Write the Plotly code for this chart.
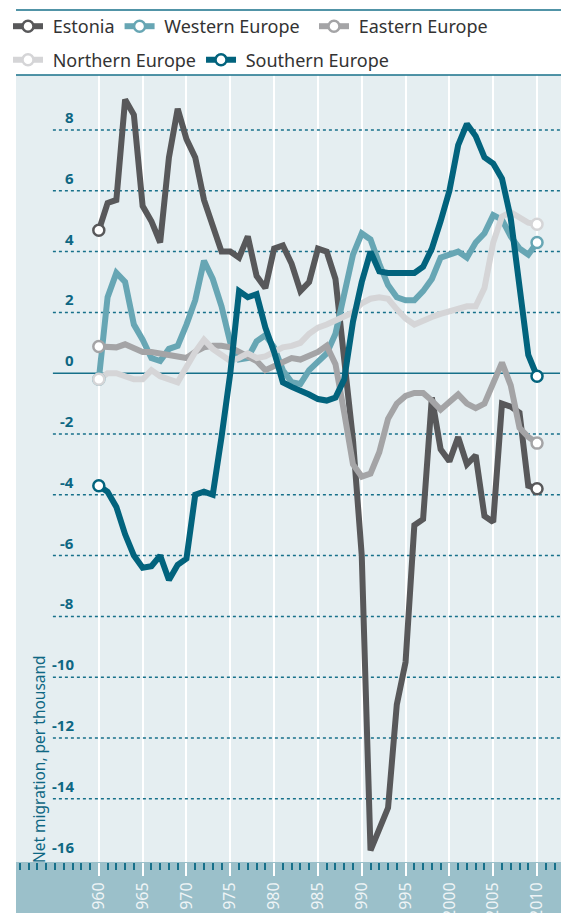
import plotly.graph_objects as go

years = list(range(1960, 2011))

estonia = [4.7, 5.6, 5.7, 9.0, 8.5, 5.5, 5.0, 4.3, 7.1, 8.7,
           7.7, 7.1, 5.7, 4.9, 4.0, 4.0, 3.8, 4.5, 3.2, 2.8,
           4.1, 4.2, 3.6, 2.7, 3.0, 4.1, 4.0, 3.1, 0.3, -2.2,
           -6.0, -15.7, -15.0, -14.3, -10.9, -9.5, -5.0, -4.8, -0.8, -2.5,
           -2.9, -2.1, -3.0, -2.7, -4.7, -4.9, -1.0, -1.1, -1.3, -3.7,
           -3.8]
western = [-0.2, 2.5, 3.3, 3.0, 1.6, 1.1, 0.5, 0.4, 0.8, 0.9,
           1.6, 2.4, 3.7, 3.1, 2.2, 1.0, 0.45, 0.5, 1.05, 1.25,
           0.85, 0.1, -0.3, -0.35, 0.1, 0.4, 0.65, 1.3, 2.7, 3.9,
           4.6, 4.4, 3.6, 2.9, 2.5, 2.4, 2.4, 2.7, 3.1, 3.8,
           3.9, 4.0, 3.8, 4.3, 4.6, 5.2, 5.05, 4.5, 4.1, 3.9,
           4.3]
eastern = [0.88, 0.85, 0.85, 0.95, 0.85, 0.7, 0.7, 0.65, 0.55, 0.5,
           0.5, 0.7, 0.85, 0.9, 0.9, 0.85, 0.7, 0.6, 0.4, 0.1,
           0.25, 0.4, 0.5, 0.45, 0.55, 0.7, 0.9, 0.3, -1.3, -3.0,
           -3.4, -3.3, -2.6, -1.5, -1.0, -0.75, -0.65, -0.65, -0.9, -1.2,
           -0.95, -0.7, -1.0, -1.15, -1.0, -0.35, 0.35, -0.4, -1.8, -2.1,
           -2.3]
northern = [-0.2, 0.0, 0.0, -0.1, -0.2, -0.2, 0.1, -0.1, -0.2, -0.3,
            0.2, 0.7, 1.1, 0.8, 0.6, 0.4, 0.5, 0.65, 0.5, 0.55,
            0.7, 0.85, 0.9, 1.0, 1.3, 1.5, 1.6, 1.75, 1.85, 2.0,
            2.3, 2.45, 2.5, 2.45, 2.1, 1.8, 1.6, 1.75, 1.85, 1.95,
            2.05, 2.15, 2.2, 2.2, 2.8, 4.3, 5.15, 5.3, 5.15, 4.95,
            4.9]
southern = [-3.7, -3.9, -4.4, -5.3, -6.0, -6.4, -6.35, -6.0, -6.8, -6.3,
            -6.1, -4.0, -3.9, -4.0, -2.1, 0.0, 2.7, 2.5, 2.6, 1.5,
            0.7, -0.3, -0.45, -0.55, -0.7, -0.85, -0.9, -0.8, -0.2, 1.7,
            3.0, 4.0, 3.35, 3.3, 3.3, 3.3, 3.3, 3.5, 4.1, 5.0,
            6.0, 7.5, 8.2, 7.8, 7.1, 6.9, 6.4, 5.1, 3.0, 0.6,
            -0.1]

series_names = ["Estonia", "Western Europe", "Eastern Europe", "Northern Europe", "Southern Europe"]
series_values = [estonia, western, eastern, northern, southern]
series_colors = ["#58585a", "#67a6b4", "#a4a4a6", "#d5d5d7", "#02637d"]
legend_labels = [" Estonia", " Western Europe  ", " Eastern Europe", " Northern Europe", " Southern Europe"]

y_ticks = [8, 6, 4, 2, 0, -2, -4, -6, -8, -10, -12, -14, -16]
x_ticks = list(range(1960, 2011, 5))
y_title = "Net migration, per thousand"

TEAL = "#17708a"
LABEL_TEAL = "#0e6783"
FONT = "Noto Sans"

W, H = 569, 913
ML, MR, MT, MB = 7, 0, 67, 59
plot_w = W - ML - MR
plot_h = H - MT - MB
x_range = [1950.55, 2014.56]
y_range = [-16.08, 9.81]

fig = go.Figure()

# lines
for name, vals, col in zip(series_names, series_values, series_colors):
    fig.add_trace(go.Scatter(x=years, y=vals, mode="lines", name=name,
                             line=dict(color=col, width=6), showlegend=False,
                             hoverinfo="skip"))
# endpoint markers drawn above all lines
for name, vals, col in zip(series_names, series_values, series_colors):
    fig.add_trace(go.Scatter(x=[years[0], years[-1]], y=[vals[0], vals[-1]], mode="markers",
                             marker=dict(size=11, color="white", line=dict(color=col, width=2.5)),
                             showlegend=False, hoverinfo="skip"))
# legend entries
for i, (label, col) in enumerate(zip(legend_labels, series_colors)):
    fig.add_trace(go.Scatter(x=[None], y=[None], mode="lines+markers", name=label,
                             line=dict(color=col, width=6),
                             marker=dict(size=11, color="white", line=dict(color=col, width=2.5)),
                             legend="legend" if i < 3 else "legend2"))

shapes = []
# dotted horizontal gridlines
for v in y_ticks:
    if v == -16:
        continue
    shapes.append(dict(type="line", xref="x", yref="y", x0=1954.76, x1=2012.62, y0=v, y1=v,
                       line=dict(color=TEAL, width=1.5, dash="solid" if v == 0 else "dot"),
                       layer="between"))
# teal vertical lines at 1960 and 2010
for xv in [years[0], years[-1]]:
    shapes.append(dict(type="line", xref="x", yref="paper", x0=xv, x1=xv, y0=0, y1=1,
                       line=dict(color=TEAL, width=1.5), layer="between"))
# bottom band
shapes.append(dict(type="rect", xref="paper", yref="paper", x0=0, x1=1, y0=-MB / plot_h, y1=0,
                   fillcolor="#9bc0ca", line=dict(width=0), layer="below"))
# top lines
top_y = (plot_h + MT - 2) / plot_h
shapes.append(dict(type="line", xref="paper", yref="paper", x0=0, x1=1, y0=top_y, y1=top_y,
                   line=dict(color=TEAL, width=1.5), layer="above"))
shapes.append(dict(type="line", xref="paper", yref="paper", x0=0, x1=1, y0=1, y1=1,
                   line=dict(color=TEAL, width=1.5), layer="above"))

annotations = []
for v in y_ticks:
    annotations.append(dict(xref="paper", yref="y", x=(67 - ML) / plot_w, y=v,
                            text=f"<b>{v}</b>", showarrow=False, xanchor="right", yanchor="middle",
                            yshift=13, font=dict(family=FONT, size=15, color=LABEL_TEAL)))
annotations.append(dict(xref="paper", yref="paper", x=(30 - ML) / plot_w, y=-0.004,
                        text=y_title, textangle=-90, showarrow=False, xanchor="center", yanchor="bottom",
                        font=dict(family=FONT, size=15.5, color=LABEL_TEAL)))

legend_common = dict(orientation="h", xanchor="left", yanchor="middle",
                     font=dict(family=FONT, size=18, color="#333333"),
                     bgcolor="rgba(0,0,0,0)", itemclick=False, itemdoubleclick=False)

fig.update_layout(
    width=W, height=H,
    margin=dict(l=ML, r=MR, t=MT, b=MB, pad=0),
    paper_bgcolor="white", plot_bgcolor="#e5eef1",
    font=dict(family=FONT, color="#333333"),
    shapes=shapes, annotations=annotations,
    xaxis=dict(range=x_range, showgrid=True, gridcolor="white", gridwidth=2,
               tickmode="array", tickvals=x_ticks, ticktext=[str(t) for t in x_ticks],
               tickangle=-90, ticks="outside", ticklen=13, tickwidth=2, tickcolor="white",
               tickfont=dict(family=FONT, size=16, color="#eef4f6"),
               minor=dict(dtick=1, tick0=1960, ticks="outside", ticklen=7, tickwidth=2,
                          tickcolor=TEAL, showgrid=False),
               zeroline=False, showline=False, fixedrange=True),
    yaxis=dict(range=y_range, showgrid=False, zeroline=False, showticklabels=False,
               showline=False, fixedrange=True),
    legend=dict(x=(-0.6 - ML) / plot_w, y=(plot_h + MT - 18) / plot_h, **legend_common),
    legend2=dict(x=(-0.6 - ML) / plot_w, y=(plot_h + MT - 52) / plot_h, **legend_common),
    showlegend=True,
)

fig.write_html("out.html")
